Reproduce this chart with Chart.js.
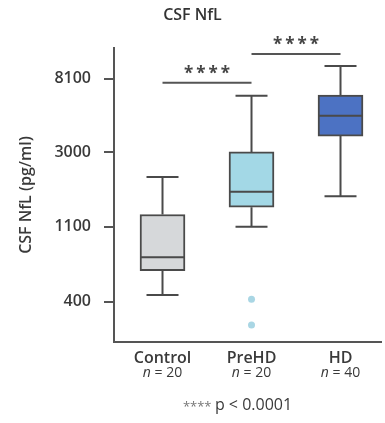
<!DOCTYPE html>
<html>
<head>
<meta charset="utf-8">
<script src="https://cdn.jsdelivr.net/npm/chart.js@4.4.0/dist/chart.umd.min.js"></script>
<style>
  html, body { margin: 0; padding: 0; background: #fff; }
</style>
</head>
<body>
<canvas id="nflChart" width="385" height="423"></canvas>
<script>
// group labels and sizes
const groups = ['Control', 'PreHD', 'HD'];
const groupSizes = [20, 20, 40];

// box plot values (pg/ml)
const whiskerLow = [437, 1100, 1658];
const q1 = [607, 1431, 3732];
const medians = [727, 1764, 4909];
const q3 = [1296, 3015, 6495];
const whiskerHigh = [2148, 6434, 9620];

// outliers (group index starts at 1)
const outlierGroup = [2, 2];
const outlierValues = [413, 292];

const yTickValues = [400, 1100, 3000, 8100];

// significance brackets
const sigFrom = [1, 2];
const sigTo = [2, 3];
const sigLevel = [7674, 11298];
const sigStars = '****';
const pNote = 'p < 0.0001';

const boxColors = ['#d6d8da', '#a3d8e6', '#4c72c3'];
const lineColor = '#4a4a4a';
const textColor = '#3a3a3a';
const fontFamily = '"Open Sans", sans-serif';

// whiskers, caps, medians, brackets and x labels
const boxExtras = {
  id: 'boxExtras',
  afterDatasetsDraw(chart) {
    const { ctx, scales: { x, y }, chartArea } = chart;
    const capHalf = 16;
    const boxHalf = 22.5;
    ctx.save();
    ctx.strokeStyle = lineColor;
    ctx.lineWidth = 2;
    groups.forEach((g, i) => {
      const cx = x.getPixelForValue(i + 1);
      const yLow = y.getPixelForValue(whiskerLow[i]);
      const yQ1 = y.getPixelForValue(q1[i]);
      const yMed = y.getPixelForValue(medians[i]);
      const yQ3 = y.getPixelForValue(q3[i]);
      const yHigh = y.getPixelForValue(whiskerHigh[i]);
      ctx.beginPath();
      ctx.moveTo(cx, yQ3); ctx.lineTo(cx, yHigh);
      ctx.moveTo(cx - capHalf, yHigh); ctx.lineTo(cx + capHalf, yHigh);
      ctx.moveTo(cx, yQ1); ctx.lineTo(cx, yLow);
      ctx.moveTo(cx - capHalf, yLow); ctx.lineTo(cx + capHalf, yLow);
      ctx.moveTo(cx - boxHalf, yMed); ctx.lineTo(cx + boxHalf, yMed);
      ctx.stroke();
    });

    // brackets
    ctx.strokeStyle = '#555';
    ctx.fillStyle = '#444';
    ctx.font = 'bold 17px ' + fontFamily;
    ctx.textAlign = 'center';
    ctx.textBaseline = 'alphabetic';
    ctx.letterSpacing = '3px';
    sigFrom.forEach((f, i) => {
      const x1 = x.getPixelForValue(f);
      const x2 = x.getPixelForValue(sigTo[i]);
      const ly = y.getPixelForValue(sigLevel[i]);
      ctx.beginPath();
      ctx.moveTo(x1, ly); ctx.lineTo(x2, ly);
      ctx.stroke();
      ctx.fillText(sigStars, (x1 + x2) / 2 + 1.5, ly - 4);
    });
    ctx.letterSpacing = '0px';

    // x category labels
    ctx.textBaseline = 'middle';
    groups.forEach((g, i) => {
      const cx = x.getPixelForValue(i + 1);
      ctx.fillStyle = textColor;
      ctx.font = '600 16px ' + fontFamily;
      ctx.textAlign = 'center';
      ctx.fillText(g, cx, chartArea.bottom + 16);
      const italic = 'italic 14px ' + fontFamily;
      const plain = '14px ' + fontFamily;
      const rest = ' = ' + groupSizes[i];
      ctx.font = italic;
      const wn = ctx.measureText('n').width;
      ctx.font = plain;
      const wr = ctx.measureText(rest).width;
      const start = cx - (wn + wr) / 2;
      ctx.textAlign = 'left';
      ctx.font = italic;
      ctx.fillText('n', start, chartArea.bottom + 31);
      ctx.font = plain;
      ctx.fillText(rest, start + wn, chartArea.bottom + 31);
    });

    // p-value footnote
    ctx.textBaseline = 'alphabetic';
    const noteY = chartArea.bottom + 68;
    ctx.font = '13px ' + fontFamily;
    const ws = ctx.measureText(sigStars + ' ').width;
    ctx.font = '16px ' + fontFamily;
    const wp = ctx.measureText(pNote).width;
    const nx = (chartArea.left + chartArea.right) / 2 - 10 - (ws + wp) / 2;
    ctx.textAlign = 'left';
    ctx.fillStyle = '#777';
    ctx.font = '13px ' + fontFamily;
    ctx.fillText(sigStars + ' ', nx, noteY + 1);
    ctx.fillStyle = textColor;
    ctx.font = '16px ' + fontFamily;
    ctx.fillText(pNote, nx + ws, noteY);
    ctx.restore();
  }
};

new Chart(document.getElementById('nflChart'), {
  type: 'bar',
  data: {
    datasets: [
      {
        type: 'bar',
        data: groups.map((g, i) => ({ x: i + 1, y: [q1[i], q3[i]] })),
        backgroundColor: boxColors,
        borderColor: lineColor,
        borderWidth: 2,
        borderSkipped: false,
        barThickness: 45
      },
      {
        type: 'scatter',
        data: outlierGroup.map((g, i) => ({ x: g, y: outlierValues[i] })),
        backgroundColor: '#a9d6e4',
        borderWidth: 0,
        pointRadius: 3.5
      }
    ]
  },
  options: {
    responsive: false,
    animation: false,
    layout: { padding: { left: 0, right: 0, top: 0, bottom: 0 } },
    plugins: {
      legend: { display: false },
      tooltip: { enabled: false },
      title: {
        display: true,
        text: 'CSF NfL',
        color: '#333',
        font: { family: fontFamily, size: 16, weight: '600' },
        padding: { top: 6, bottom: 22.8 }
      }
    },
    scales: {
      x: {
        type: 'linear',
        offset: false,
        min: 0.455,
        max: 3.455,
        grid: { display: false },
        ticks: { display: false },
        border: { color: '#555', width: 2 },
        afterFit: (s) => { s.height = 81; }
      },
      y: {
        type: 'logarithmic',
        min: 232,
        max: 12256,
        afterBuildTicks: (s) => { s.ticks = yTickValues.map(v => ({ value: v })); },
        ticks: {
          color: textColor,
          padding: 13,
          font: { family: fontFamily, size: 16, weight: '600' },
          callback: (v) => String(v)
        },
        grid: { drawOnChartArea: false, drawTicks: true, tickLength: 10, color: '#555', lineWidth: 2 },
        border: { color: '#555', width: 2 },
        title: {
          display: true,
          text: 'CSF NfL (pg/ml)',
          color: textColor,
          font: { family: fontFamily, size: 16, weight: '600' },
          padding: { top: 17, bottom: 0 }
        },
        afterFit: (s) => { s.width = 114; }
      }
    }
  },
  plugins: [boxExtras]
});
</script>
</body>
</html>
